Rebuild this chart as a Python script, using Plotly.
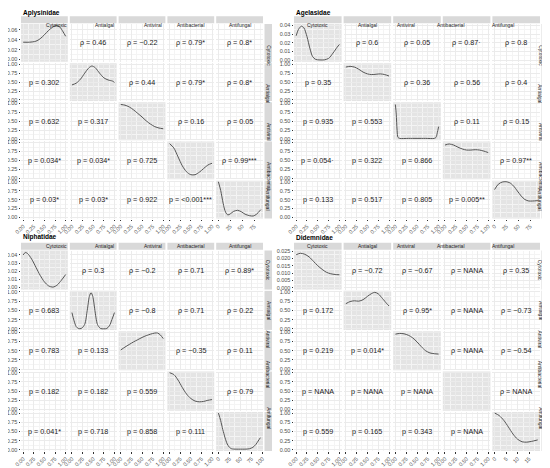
import plotly.graph_objects as go

"""
Correlation matrices (ggpairs style) of bioactivity assays for four families.
Upper triangle: rho, lower triangle: p value, diagonal: density curves.
"""

# the page body keeps its 8px default margin, so the figure is drawn a bit
# smaller and all positions below are given in window pixels
PAGE_OFF = 8
W, H = 542, 460
FONT = "Liberation Sans, Arial, sans-serif"

families = ["Aplysinidae", "Agelasidae", "Niphatidae", "Didemnidae"]
assays = ["Cytotoxic", "Antialgal", "Antiviral", "Antibacterial", "Antifungal"]

# values listed for the pairs (1,2),(1,3),(1,4),(1,5),(2,3),(2,4),(2,5),(3,4),(3,5),(4,5)
aply_rho = ["0.46", "−0.22", "0.79*", "0.8*", "0.44", "0.79*", "0.8*", "0.16", "0.05", "0.99***"]
aply_p = ["0.302", "0.632", "0.034*", "0.03*", "0.317", "0.034*", "0.03*", "0.725", "0.922", "<0.001***"]
agel_rho = ["0.6", "0.05", "0.87·", "0.8", "0.36", "0.56", "0.4", "0.11", "0.15", "0.97**"]
agel_p = ["0.35", "0.935", "0.054·", "0.133", "0.553", "0.322", "0.517", "0.866", "0.805", "0.005**"]
niph_rho = ["0.3", "−0.2", "0.71", "0.89*", "−0.8", "0.71", "0.22", "−0.35", "0.11", "0.79"]
niph_p = ["0.683", "0.783", "0.182", "0.041*", "0.133", "0.182", "0.718", "0.559", "0.858", "0.111"]
dide_rho = ["−0.72", "−0.67", "NANA", "0.35", "0.95*", "NANA", "−0.73", "NANA", "−0.54", "NANA"]
dide_p = ["0.172", "0.219", "NANA", "0.559", "0.014*", "NANA", "0.165", "NANA", "0.343", "NANA"]

# density curves on the diagonal (x, y); rows 2-5 are drawn on the 0-1 scale
aply_density = {
    "Cytotoxic": ([0, 0.15, 0.3, 0.4, 0.5, 0.6, 0.7, 0.78, 0.86, 0.94, 1.0],
                  [0.035, 0.035, 0.037, 0.042, 0.050, 0.059, 0.066, 0.069, 0.066, 0.056, 0.047]),
    "Antialgal": ([0, 0.1, 0.2, 0.3, 0.4, 0.47, 0.55, 0.65, 0.75, 0.85, 0.95, 1.0],
                  [0.42, 0.47, 0.58, 0.75, 0.9, 0.95, 0.9, 0.75, 0.62, 0.56, 0.53, 0.49]),
    "Antiviral": ([0, 0.1, 0.2, 0.3, 0.4, 0.5, 0.6, 0.7, 0.8, 0.9, 1.0],
                  [0.97, 0.95, 0.9, 0.82, 0.72, 0.62, 0.51, 0.42, 0.35, 0.31, 0.29]),
    "Antibacterial": ([0, 0.1, 0.2, 0.3, 0.4, 0.5, 0.6, 0.7, 0.8, 0.9, 1.0],
                      [0.97, 0.85, 0.6, 0.35, 0.18, 0.1, 0.1, 0.17, 0.27, 0.37, 0.42]),
    "Antifungal": ([0, 5, 10, 15, 20, 25, 32, 40, 48, 56, 65, 73, 80, 89],
                   [1.0, 0.75, 0.4, 0.15, 0.07, 0.1, 0.17, 0.2, 0.16, 0.09, 0.05, 0.04, 0.09, 0.22]),
}
agel_density = {
    "Cytotoxic": ([0, 0.05, 0.12, 0.18, 0.25, 0.32, 0.38, 0.45, 0.55, 0.65, 0.75, 0.85, 0.95, 1.0],
                  [0.028, 0.035, 0.039, 0.037, 0.027, 0.013, 0.004, 0.0008, 0.0002, 0.0003, 0.002, 0.008, 0.015, 0.018]),
    "Antialgal": ([0, 0.1, 0.2, 0.3, 0.4, 0.5, 0.6, 0.7, 0.8, 0.9, 1.0],
                  [0.92, 0.94, 0.92, 0.86, 0.78, 0.73, 0.71, 0.72, 0.73, 0.71, 0.67]),
    "Antiviral": ([0, 0.02, 0.04, 0.06, 0.1, 0.3, 0.5, 0.7, 0.9, 0.94, 0.97, 1.0],
                  [0.97, 0.7, 0.25, 0.05, 0.02, 0.02, 0.02, 0.02, 0.02, 0.05, 0.18, 0.35]),
    "Antibacterial": ([0, 0.1, 0.2, 0.3, 0.4, 0.5, 0.6, 0.7, 0.8, 0.9, 1.0],
                      [0.93, 0.96, 0.93, 0.87, 0.82, 0.79, 0.79, 0.8, 0.79, 0.76, 0.72]),
    "Antifungal": ([0, 8, 16, 24, 32, 40, 48, 56, 64, 72, 80, 91],
                   [0.78, 0.93, 0.99, 1.0, 0.97, 0.88, 0.74, 0.6, 0.5, 0.46, 0.46, 0.47]),
}
niph_density = {
    "Cytotoxic": ([0, 0.05, 0.1, 0.2, 0.3, 0.4, 0.5, 0.6, 0.7, 0.8, 0.9, 1.0],
                  [0.040, 0.043, 0.042, 0.035, 0.025, 0.015, 0.007, 0.002, 0.0005, 0.003, 0.009, 0.016]),
    "Antialgal": ([0, 0.05, 0.1, 0.15, 0.22, 0.3, 0.36, 0.41, 0.45, 0.49, 0.54, 0.6, 0.67, 0.75, 0.82, 0.88, 0.94, 1.0],
                  [0.44, 0.22, 0.06, 0.01, 0.01, 0.12, 0.5, 0.88, 0.98, 0.88, 0.5, 0.12, 0.01, 0.0, 0.01, 0.08, 0.25, 0.44]),
    "Antiviral": ([0, 0.1, 0.2, 0.3, 0.4, 0.5, 0.6, 0.7, 0.8, 0.87, 0.93, 1.0],
                  [0.52, 0.6, 0.67, 0.74, 0.8, 0.86, 0.91, 0.95, 0.98, 0.98, 0.93, 0.83]),
    "Antibacterial": ([0, 0.1, 0.2, 0.3, 0.4, 0.5, 0.6, 0.7, 0.8, 0.9, 1.0],
                      [1.0, 0.95, 0.8, 0.6, 0.42, 0.3, 0.23, 0.21, 0.22, 0.25, 0.27]),
    "Antifungal": ([0, 5, 10, 15, 20, 25, 30, 40, 50, 60, 70, 78, 85, 90, 95],
                   [1.0, 0.8, 0.55, 0.33, 0.16, 0.07, 0.03, 0.02, 0.02, 0.02, 0.03, 0.07, 0.15, 0.24, 0.33]),
}
dide_density = {
    "Cytotoxic": ([0, 0.1, 0.2, 0.3, 0.4, 0.5, 0.6, 0.7, 0.8, 0.9, 1.0],
                  [0.0225, 0.0235, 0.0228, 0.021, 0.018, 0.015, 0.0125, 0.0105, 0.0095, 0.009, 0.0088]),
    "Antialgal": ([0, 0.1, 0.2, 0.3, 0.4, 0.5, 0.6, 0.67, 0.75, 0.85, 0.95, 1.0],
                  [0.68, 0.74, 0.76, 0.75, 0.79, 0.88, 0.96, 0.99, 0.95, 0.82, 0.68, 0.62]),
    "Antiviral": ([0, 0.1, 0.2, 0.3, 0.4, 0.5, 0.6, 0.7, 0.8, 0.9, 1.0],
                  [0.95, 0.97, 0.96, 0.92, 0.85, 0.74, 0.61, 0.5, 0.44, 0.42, 0.41]),
    "Antibacterial": ([], []),
    "Antifungal": ([0, 2, 4, 6, 8, 10, 12, 14, 16, 18.8],
                   [1.0, 0.93, 0.8, 0.62, 0.43, 0.29, 0.22, 0.21, 0.23, 0.27]),
}

rho_all = [aply_rho, agel_rho, niph_rho, dide_rho]
p_all = [aply_p, agel_p, niph_p, dide_p]
density_all = [aply_density, agel_density, niph_density, dide_density]

# axis scales per family
dens_range = [[-0.005, 0.072], [-0.002, 0.0415], [-0.0025, 0.0455], [-0.0013, 0.0254]]
dens_dtick = [0.02, 0.01, 0.01, 0.005]
dens_fmt = [".2f", ".2f", ".2f", ".3f"]
fung_range = [[-4.5, 93.5], [-4.5, 95.5], [-5, 101], [-1, 19.8]]
fung_dtick = [25, 25, 25, 5]

# panel boxes in window pixels: left, right, top of first row, bottom of last row
panel_left = [21, 294, 21, 294]
panel_right = [263, 540, 263, 540]
panel_top = [24, 24, 250.5, 250.5]
panel_bottom = [218.5, 218.5, 451, 451]
title_y = [12.5, 12.5, 237, 237]
col_gap, row_gap = 2, 1.3

pairs = [(0, 1), (0, 2), (0, 3), (0, 4), (1, 2), (1, 3), (1, 4), (2, 3), (2, 4), (3, 4)]


def fx(px):
    return (px - PAGE_OFF) / W


def fy(py):
    return 1 - (py - PAGE_OFF) / H


fig = go.Figure()
layout = {}
shapes = []
annotations = []

grid_major = "#ebebeb"
grid_minor = "#f4f4f4"
tickfont = dict(family=FONT, size=5.5, color="#4d4d4d")

for f, fam in enumerate(families):
    L, T = panel_left[f], panel_top[f]
    cw = (panel_right[f] - L - 4 * col_gap) / 5
    cs = cw + col_gap
    rh = (panel_bottom[f] - T - 4 * row_gap) / 5
    rs = rh + row_gap

    rho_text = {}
    p_text = {}
    for n, (a, b) in enumerate(pairs):
        rho_text[(a, b)] = rho_all[f][n]
        p_text[(b, a)] = p_all[f][n]

    for i in range(5):
        for j in range(5):
            k = f * 25 + i * 5 + j + 1
            xname = "xaxis" if k == 1 else "xaxis%d" % k
            yname = "yaxis" if k == 1 else "yaxis%d" % k
            xref = "x" if k == 1 else "x%d" % k
            yref = "y" if k == 1 else "y%d" % k

            x0 = L + j * cs
            y0 = T + i * rs

            if j < 4:
                xr, xd, xf = [-0.05, 1.05], 0.25, ".2f"
            else:
                xr, xd, xf = fung_range[f], fung_dtick[f], "d"
            if i == 0:
                yr, yd, yf = dens_range[f], dens_dtick[f], dens_fmt[f]
            else:
                yr, yd, yf = [-0.03, 1.03], 0.25, ".2f"

            layout[xname] = dict(
                domain=[fx(x0), fx(x0 + cw)], anchor=yref, range=xr, dtick=xd, tick0=0,
                tickformat=xf, showticklabels=(i == 4), ticks="outside" if i == 4 else "",
                ticklen=1.5, tickwidth=0.6, tickcolor="#333333", tickangle=-45,
                tickfont=tickfont, showgrid=True, gridcolor=grid_major, gridwidth=0.6,
                minor=dict(dtick=xd / 2, tick0=0, showgrid=True, gridcolor=grid_minor, gridwidth=0.4),
                zeroline=False, showline=False, fixedrange=True, automargin=False,
            )
            layout[yname] = dict(
                domain=[fy(y0 + rh), fy(y0)], anchor=xref, range=yr, dtick=yd, tick0=0,
                tickformat=yf, showticklabels=(j == 0), ticks="outside" if j == 0 else "",
                ticklen=1.5, tickwidth=0.6, tickcolor="#333333",
                tickfont=tickfont, showgrid=True, gridcolor=grid_major, gridwidth=0.6,
                minor=dict(dtick=yd / 2, tick0=0, showgrid=True, gridcolor=grid_minor, gridwidth=0.4),
                zeroline=False, showline=False, fixedrange=True, automargin=False,
            )

            if i == j:
                shapes.append(dict(type="rect", xref=xref + " domain", yref=yref + " domain",
                                   x0=0, x1=1, y0=0, y1=1, layer="below",
                                   fillcolor="#e4e4e4", line=dict(width=0)))
                xs, ys = density_all[f][assays[i]]
                fig.add_trace(go.Scatter(x=xs, y=ys, xaxis=xref, yaxis=yref, mode="lines",
                                         line=dict(color="#555555", width=1, shape="spline",
                                                   smoothing=0.8),
                                         hoverinfo="skip", showlegend=False))
            else:
                # empty trace so that the cell gets its own subplot
                fig.add_trace(go.Scatter(x=[], y=[], xaxis=xref, yaxis=yref, mode="lines",
                                         hoverinfo="skip", showlegend=False))
                if i < j:
                    txt = "ρ = " + rho_text[(i, j)]
                else:
                    txt = "p = " + p_text[(i, j)]
                annotations.append(dict(text=txt, xref=xref + " domain", yref=yref + " domain",
                                        x=0.5, y=0.5, showarrow=False,
                                        font=dict(family=FONT, size=7.2, color="#1a1a1a")))

    # top strips
    for j, name in enumerate(assays):
        x0 = L + j * cs
        shapes.append(dict(type="rect", xref="paper", yref="paper",
                           x0=fx(x0), x1=fx(x0 + cw), y0=fy(T - 0.8), y1=fy(T - 7.8),
                           fillcolor="#d9d9d9", line=dict(width=0)))
        annotations.append(dict(text=name, xref="paper", yref="paper",
                                x=fx(x0 + cw / 2), y=fy(T - 4.3), showarrow=False,
                                font=dict(family=FONT, size=5, color="#1a1a1a")))
    # right strips
    rx = panel_right[f]
    for i, name in enumerate(assays):
        y0 = T + i * rs
        shapes.append(dict(type="rect", xref="paper", yref="paper",
                           x0=fx(rx + 1.5), x1=fx(rx + 9), y0=fy(y0 + rh), y1=fy(y0),
                           fillcolor="#d9d9d9", line=dict(width=0)))
        annotations.append(dict(text=name, xref="paper", yref="paper", textangle=90,
                                x=fx(rx + 5.3), y=fy(y0 + rh / 2), showarrow=False,
                                font=dict(family=FONT, size=5, color="#1a1a1a")))
    # family title
    annotations.append(dict(text="<b>" + fam + "</b>", xref="paper", yref="paper",
                            x=fx(L), y=fy(title_y[f]), xanchor="left", yanchor="middle",
                            showarrow=False, font=dict(family=FONT, size=6.5, color="#000000")))

fig.update_layout(
    template="none",
    width=W, height=H, autosize=False,
    margin=dict(l=0, r=0, t=0, b=0, pad=0),
    paper_bgcolor="white", plot_bgcolor="white",
    showlegend=False,
    shapes=shapes, annotations=annotations,
    **layout
)

fig.write_html("out.html")
